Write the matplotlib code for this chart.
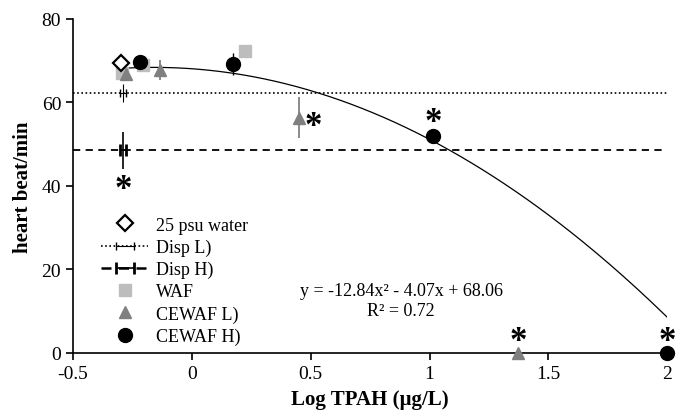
import numpy as np
import matplotlib
matplotlib.use('Agg')
import matplotlib.pyplot as plt
from matplotlib.lines import Line2D

plt.rcParams['font.family'] = ['Liberation Serif', 'DejaVu Serif']

# Datos
agua_x = [-0.298]
agua_y = [69.5]

dispL_x = [-0.29]
dispL_y = [62.2]
dispL_err = [2.2]
dispL_nivel = 62.2

dispH_x = [-0.29]
dispH_y = [48.5]
dispH_err = [4.5]
dispH_nivel = 48.5

waf_x = [-0.295, -0.205, 0.224]
waf_y = [67.0, 69.0, 72.3]

cewafL_x = [-0.278, -0.134, 0.451, 1.373]
cewafL_y = [66.8, 67.8, 56.3, 0.0]
cewafL_err = [0.0, 2.4, 4.9, 0.0]

cewafH_x = [-0.218, 0.173, 1.015, 2.0]
cewafH_y = [69.6, 69.2, 52.0, 0.0]
cewafH_err = [0.0, 2.7, 0.0, 0.0]

# asteriscos (significancia)
star_x = [-0.29, 0.51, 1.015, 1.373, 2.0]
star_y = [35.2, 50.2, 51.2, -1.3, -1.3]

# ajuste cuadrático
coef = [-12.84, -4.07, 68.06]

fig, ax = plt.subplots(figsize=(6.76, 4.14), dpi=100)
fig.subplots_adjust(left=0.108, right=0.987, bottom=0.145, top=0.952)

ax.axhline(dispL_nivel, color='black', linestyle=(0, (1, 1.5)), linewidth=1.2, zorder=1)
ax.axhline(dispH_nivel, color='black', linestyle=(0, (4, 3)), linewidth=1.3, zorder=1)

xx = np.linspace(-0.3, 2.0, 200)
ax.plot(xx, np.polyval(coef, xx), color='black', linewidth=0.9, zorder=2)

h_agua, = ax.plot(agua_x, agua_y, 'D', markerfacecolor='white', markeredgecolor='black',
                  markeredgewidth=1.6, markersize=8, zorder=6)

# Disp: barra vertical sin tapas + barra horizontal corta con tapas
ax.errorbar(dispL_x, dispL_y, yerr=dispL_err, fmt='none', ecolor='black', elinewidth=0.8, zorder=3)
h_dl = ax.errorbar(dispL_x, dispL_y, xerr=0.012, fmt='none', ecolor='black',
                   elinewidth=0.8, capsize=3, capthick=1.0, zorder=3)
ax.errorbar(dispH_x, dispH_y, yerr=dispH_err, fmt='none', ecolor='black', elinewidth=1.2, zorder=3)
h_dh = ax.errorbar(dispH_x, dispH_y, xerr=0.012, fmt='none', ecolor='black',
                   elinewidth=1.2, capsize=4, capthick=2.0, zorder=3)

h_waf, = ax.plot(waf_x, waf_y, 's', color='#bdbdbd', markersize=8, zorder=3)
ax.errorbar(cewafL_x, cewafL_y, yerr=cewafL_err, fmt='none', ecolor='#777777', elinewidth=1.2, zorder=4)
h_cl, = ax.plot(cewafL_x, cewafL_y, '^', color='#808080', markersize=8, zorder=4, clip_on=False)
ax.errorbar(cewafH_x, cewafH_y, yerr=cewafH_err, fmt='none', ecolor='black', elinewidth=1.0, zorder=5)
h_ch, = ax.plot(cewafH_x, cewafH_y, 'o', color='black', markersize=10, zorder=5, clip_on=False)

for sx, sy in zip(star_x, star_y):
    ax.text(sx, sy, '*', ha='center', va='bottom', fontsize=25, fontweight='bold', zorder=7)

ax.text(0.88, 12.6, 'y = -12.84x² - 4.07x + 68.06\nR² = 0.72', ha='center', va='center',
        fontsize=13, linespacing=1.2)

l_dl = Line2D([], [], color='black', linestyle=(0, (1, 1.5)), linewidth=1.2)
l_dh = Line2D([], [], color='black', linestyle=(0, (4, 3)), linewidth=1.8)
ax.legend([h_agua, (l_dl, h_dl), (l_dh, h_dh), h_waf, h_cl, h_ch],
          ['25 psu water', 'Disp L)', 'Disp H)', 'WAF', 'CEWAF L)', 'CEWAF H)'],
          loc='lower left', bbox_to_anchor=(0.02, -0.025), frameon=False, fontsize=13,
          handlelength=2.6, labelspacing=0.28, handletextpad=0.45)

ax.set_xlim(-0.5, 2.0)
ax.set_ylim(0, 80)
ax.set_xticks([-0.5, 0, 0.5, 1, 1.5, 2])
ax.set_xticklabels(['-0.5', '0', '0.5', '1', '1.5', '2'])
ax.set_yticks([0, 20, 40, 60, 80])
ax.spines['top'].set_visible(False)
ax.spines['right'].set_visible(False)
ax.spines['left'].set_linewidth(1.2)
ax.spines['bottom'].set_linewidth(1.2)
ax.tick_params(direction='out', length=5, width=1.2, labelsize=14)
ax.set_xlabel('Log TPAH (µg/L)', fontsize=15, fontweight='bold', labelpad=5)
ax.set_ylabel('heart beat/min', fontsize=15, fontweight='bold', labelpad=6)

plt.savefig('out.png', dpi=100)
